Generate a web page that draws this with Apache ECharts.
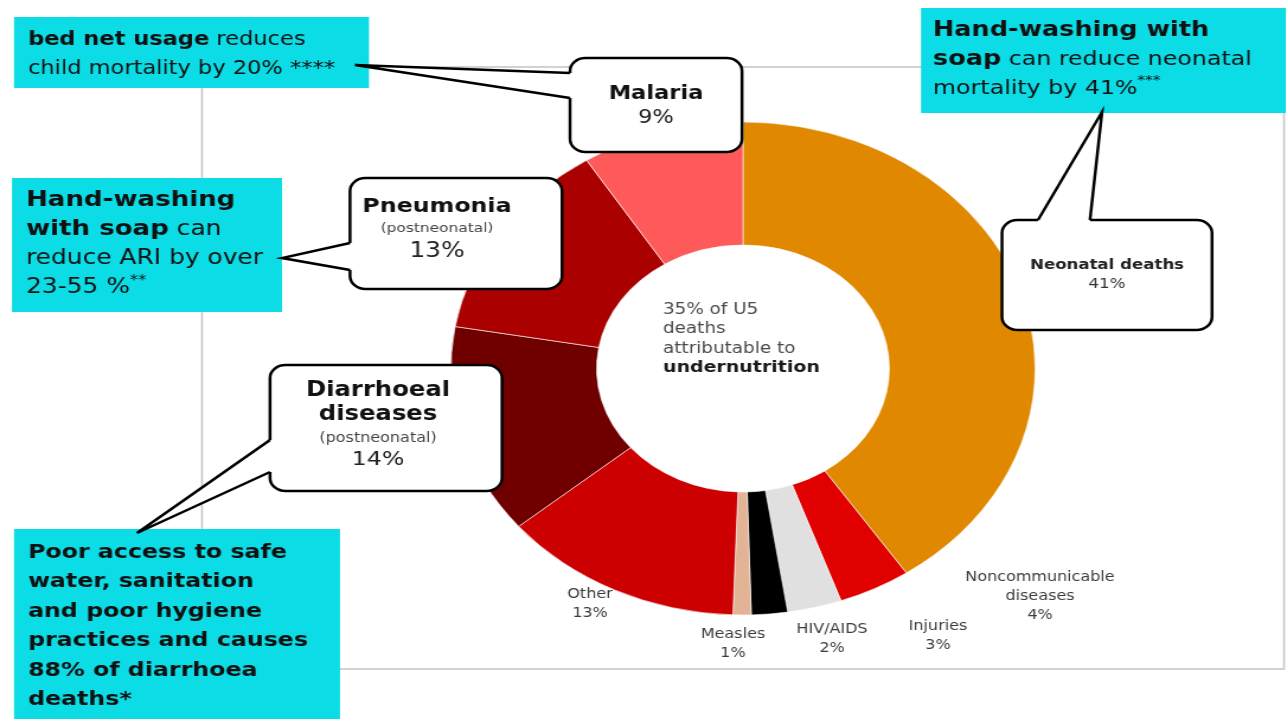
<!DOCTYPE html>
<html>
<head>
<meta charset="utf-8">
<title>Causes of under-five deaths</title>
<script src="https://cdn.jsdelivr.net/npm/echarts@6/dist/echarts.min.js"></script>
<style>
  html, body { margin: 0; padding: 0; background: #fff; overflow: hidden; }
  /* the source slide is stretched sideways, so the whole chart is drawn narrow and scaled */
  #main { width: 1086px; height: 719px; transform: scaleX(1.185); transform-origin: 0 0; }
</style>
</head>
<body>
<div id="main"></div>
<script>
// causes of under-five deaths, clockwise from 12 o'clock (slice sizes as drawn, labels rounded)
var causes = ["Neonatal deaths", "Noncommunicable diseases", "Injuries", "HIV/AIDS", "Measles", "Other", "Diarrhoeal diseases", "Pneumonia", "Malaria"];
var shares = [40.6, 4, 3, 2, 1, 13.4, 13.8, 13.3, 9];
var colors = ["#e08800", "#e00000", "#e0e0e0", "#000000", "#e2b394", "#cc0000", "#700000", "#aa0000", "#ff5a5a"];
var centerNote = ["35% of U5", "deaths", "attributable to"];
var centerBold = "undernutrition";

var S = 1.185;
var F = "DejaVu Sans";
var CYAN = "#0cdce6";
function X(v) { return v / S; }

// where the small outside labels sit (page px)
var labelPos = {
  "Noncommunicable diseases": [1040, 596],
  "Injuries": [938, 636],
  "HIV/AIDS": [832, 639],
  "Measles": [733, 644],
  "Other": [590, 604]
};

function R(size, bold, lh, color, va) {
  var o = { fontFamily: F, fontSize: size, fontWeight: bold ? "bold" : "normal", lineHeight: lh, fill: color || "#111" };
  if (va) o.verticalAlign = va;
  return o;
}
function share(name) { return Math.round(shares[causes.indexOf(name)]) + "%"; }

var g = [];
// plot area frame left over from the slide
g.push({ type: "rect", z: 0, silent: true, shape: { x: X(202), y: 67, width: X(1284 - 202), height: 669 - 67 },
  style: { fill: "none", stroke: "#c4c4c4", lineWidth: 1.5 } });

function note(x1, y1, x2, y2, tx, ty, text, rich) {
  g.push({ type: "rect", z: 10, silent: true, shape: { x: X(x1), y: y1, width: X(x2 - x1), height: y2 - y1 }, style: { fill: CYAN } });
  g.push({ type: "text", z: 11, silent: true, x: X(tx), y: ty, style: { text: text, rich: rich, align: "left", verticalAlign: "top", fill: "#111" } });
}

function bubble(x1, y1, x2, y2, b1, tip, b2, inset) {
  g.push({ type: "rect", z: 12, silent: true, shape: { x: X(x1), y: y1, width: X(x2 - x1), height: y2 - y1, r: 13 },
    style: { fill: "#fff", stroke: "#000", lineWidth: 2.5 } });
  g.push({ type: "polygon", z: 13, silent: true, shape: { points: [
      [X(b1[0] + inset[0]), b1[1] + inset[1]], [X(b1[0]), b1[1]], [X(tip[0]), tip[1]],
      [X(b2[0]), b2[1]], [X(b2[0] + inset[0]), b2[1] + inset[1]]] },
    style: { fill: "#fff" } });
  g.push({ type: "polyline", z: 14, silent: true, shape: { points: [[X(b1[0]), b1[1]], [X(tip[0]), tip[1]], [X(b2[0]), b2[1]]] },
    style: { fill: null, stroke: "#000", lineWidth: 2.5 } });
}

function centred(x, y, text, rich) {
  g.push({ type: "text", z: 15, silent: true, x: X(x), y: y, style: { text: text, rich: rich, align: "center", verticalAlign: "middle", fill: "#111" } });
}

// cyan intervention notes
note(14, 17, 369, 88, 28, 25.5,
  "{b|bed net usage}{n| reduces}\n{n|child mortality by 20% ****}",
  { b: R(19, 1, 29), n: R(19, 0, 29) });
note(12, 178, 282, 312, 26, 186,
  "{b|Hand-washing}\n{b|with soap}{n| can}\n{n|reduce ARI by over}\n{n|23-55 %}{s|**}",
  { b: R(22, 1, 29), n: R(21, 0, 29), s: R(14, 0, 29, "#111", "top") });
note(921, 8, 1286, 113, 933, 15.5,
  "{b|Hand-washing with}\n{b|soap}{n| can reduce neonatal}\n{n|mortality by 41%}{s|***}",
  { b: R(21.5, 1, 29.5), n: R(20, 0, 29.5), s: R(13, 0, 29.5, "#111", "top") });
note(14, 529, 340, 719, 28, 538,
  "{b|Poor access to safe}\n{b|water, sanitation}\n{b|and poor hygiene}\n{b|practices and causes}\n{b|88% of diarrhoea}\n{b|deaths*}",
  { b: R(20, 1, 29.5) });

// callout bubbles for the big slices
bubble(570, 58, 742, 152, [570, 73], [355, 65], [570, 98], [4, 0]);
centred(656, 106, "{t|Malaria}\n{p|" + share("Malaria") + "}",
  { t: R(19, 1, 24), p: R(19, 0, 24, "#222") });
bubble(350, 178, 562, 289, [350, 243], [282, 258], [350, 270], [4, 0]);
centred(437, 230, "{t|Pneumonia}\n{s|(postneonatal)}\n{p|" + share("Pneumonia") + "}",
  { t: R(20, 1, 24), s: R(13, 0, 20, "#444"), p: R(21, 0, 26, "#222") });
bubble(270, 365, 502, 491, [270, 440], [137, 533], [270, 472], [4, 0]);
centred(378, 425, "{t|Diarrhoeal}\n{t|diseases}\n{s|(postneonatal)}\n{p|" + share("Diarrhoeal diseases") + "}",
  { t: R(20.5, 1, 24), s: R(13.5, 0, 22, "#444"), p: R(20, 0, 22, "#222") });
bubble(1002, 220, 1212, 330, [1038, 220], [1102, 112], [1090, 220], [0, 4]);
centred(1107, 274.5, "{t|Neonatal deaths}\n{p|" + share("Neonatal deaths") + "}",
  { t: R(14, 1, 19, "#222"), p: R(14, 0, 19, "#333") });

// note in the hole of the donut
g.push({ type: "text", z: 15, silent: true, x: X(663), y: 300, style: {
  text: centerNote.map(function (s) { return "{n|" + s + "}"; }).join("\n") + "\n{b|" + centerBold + "}",
  rich: { n: R(15.5, 0, 19.5, "#4a4a4a"), b: R(16, 1, 19.5, "#1a1a1a") },
  align: "left", verticalAlign: "top" } });

var pieData = causes.map(function (name, i) {
  return { name: name, value: shares[i], itemStyle: { color: colors[i] }, label: { show: !!labelPos[name] } };
});

var chart = echarts.init(document.getElementById("main"));
chart.setOption({
  animation: false,
  backgroundColor: "#fff",
  textStyle: { fontFamily: F },
  graphic: { elements: g },
  series: [{
    type: "pie",
    z: 2,
    silent: true,
    center: [X(743), 368.5],
    radius: [123.5, 246.5],
    startAngle: 90,
    clockwise: true,
    avoidLabelOverlap: false,
    itemStyle: { borderColor: "#fff", borderWidth: 0.6 },
    label: {
      position: "outside",
      fontFamily: F,
      fontSize: 13.5,
      lineHeight: 19,
      color: "#3c3c3c",
      formatter: function (p) {
        return p.name.replace(" diseases", "\ndiseases") + "\n" + Math.round(p.value) + "%";
      }
    },
    labelLine: { show: false },
    labelLayout: function (p) {
      var pos = labelPos[causes[p.dataIndex]];
      if (!pos) return {};
      return { x: X(pos[0]), y: pos[1], align: "center", verticalAlign: "middle" };
    },
    data: pieData
  }]
});
</script>
</body>
</html>
